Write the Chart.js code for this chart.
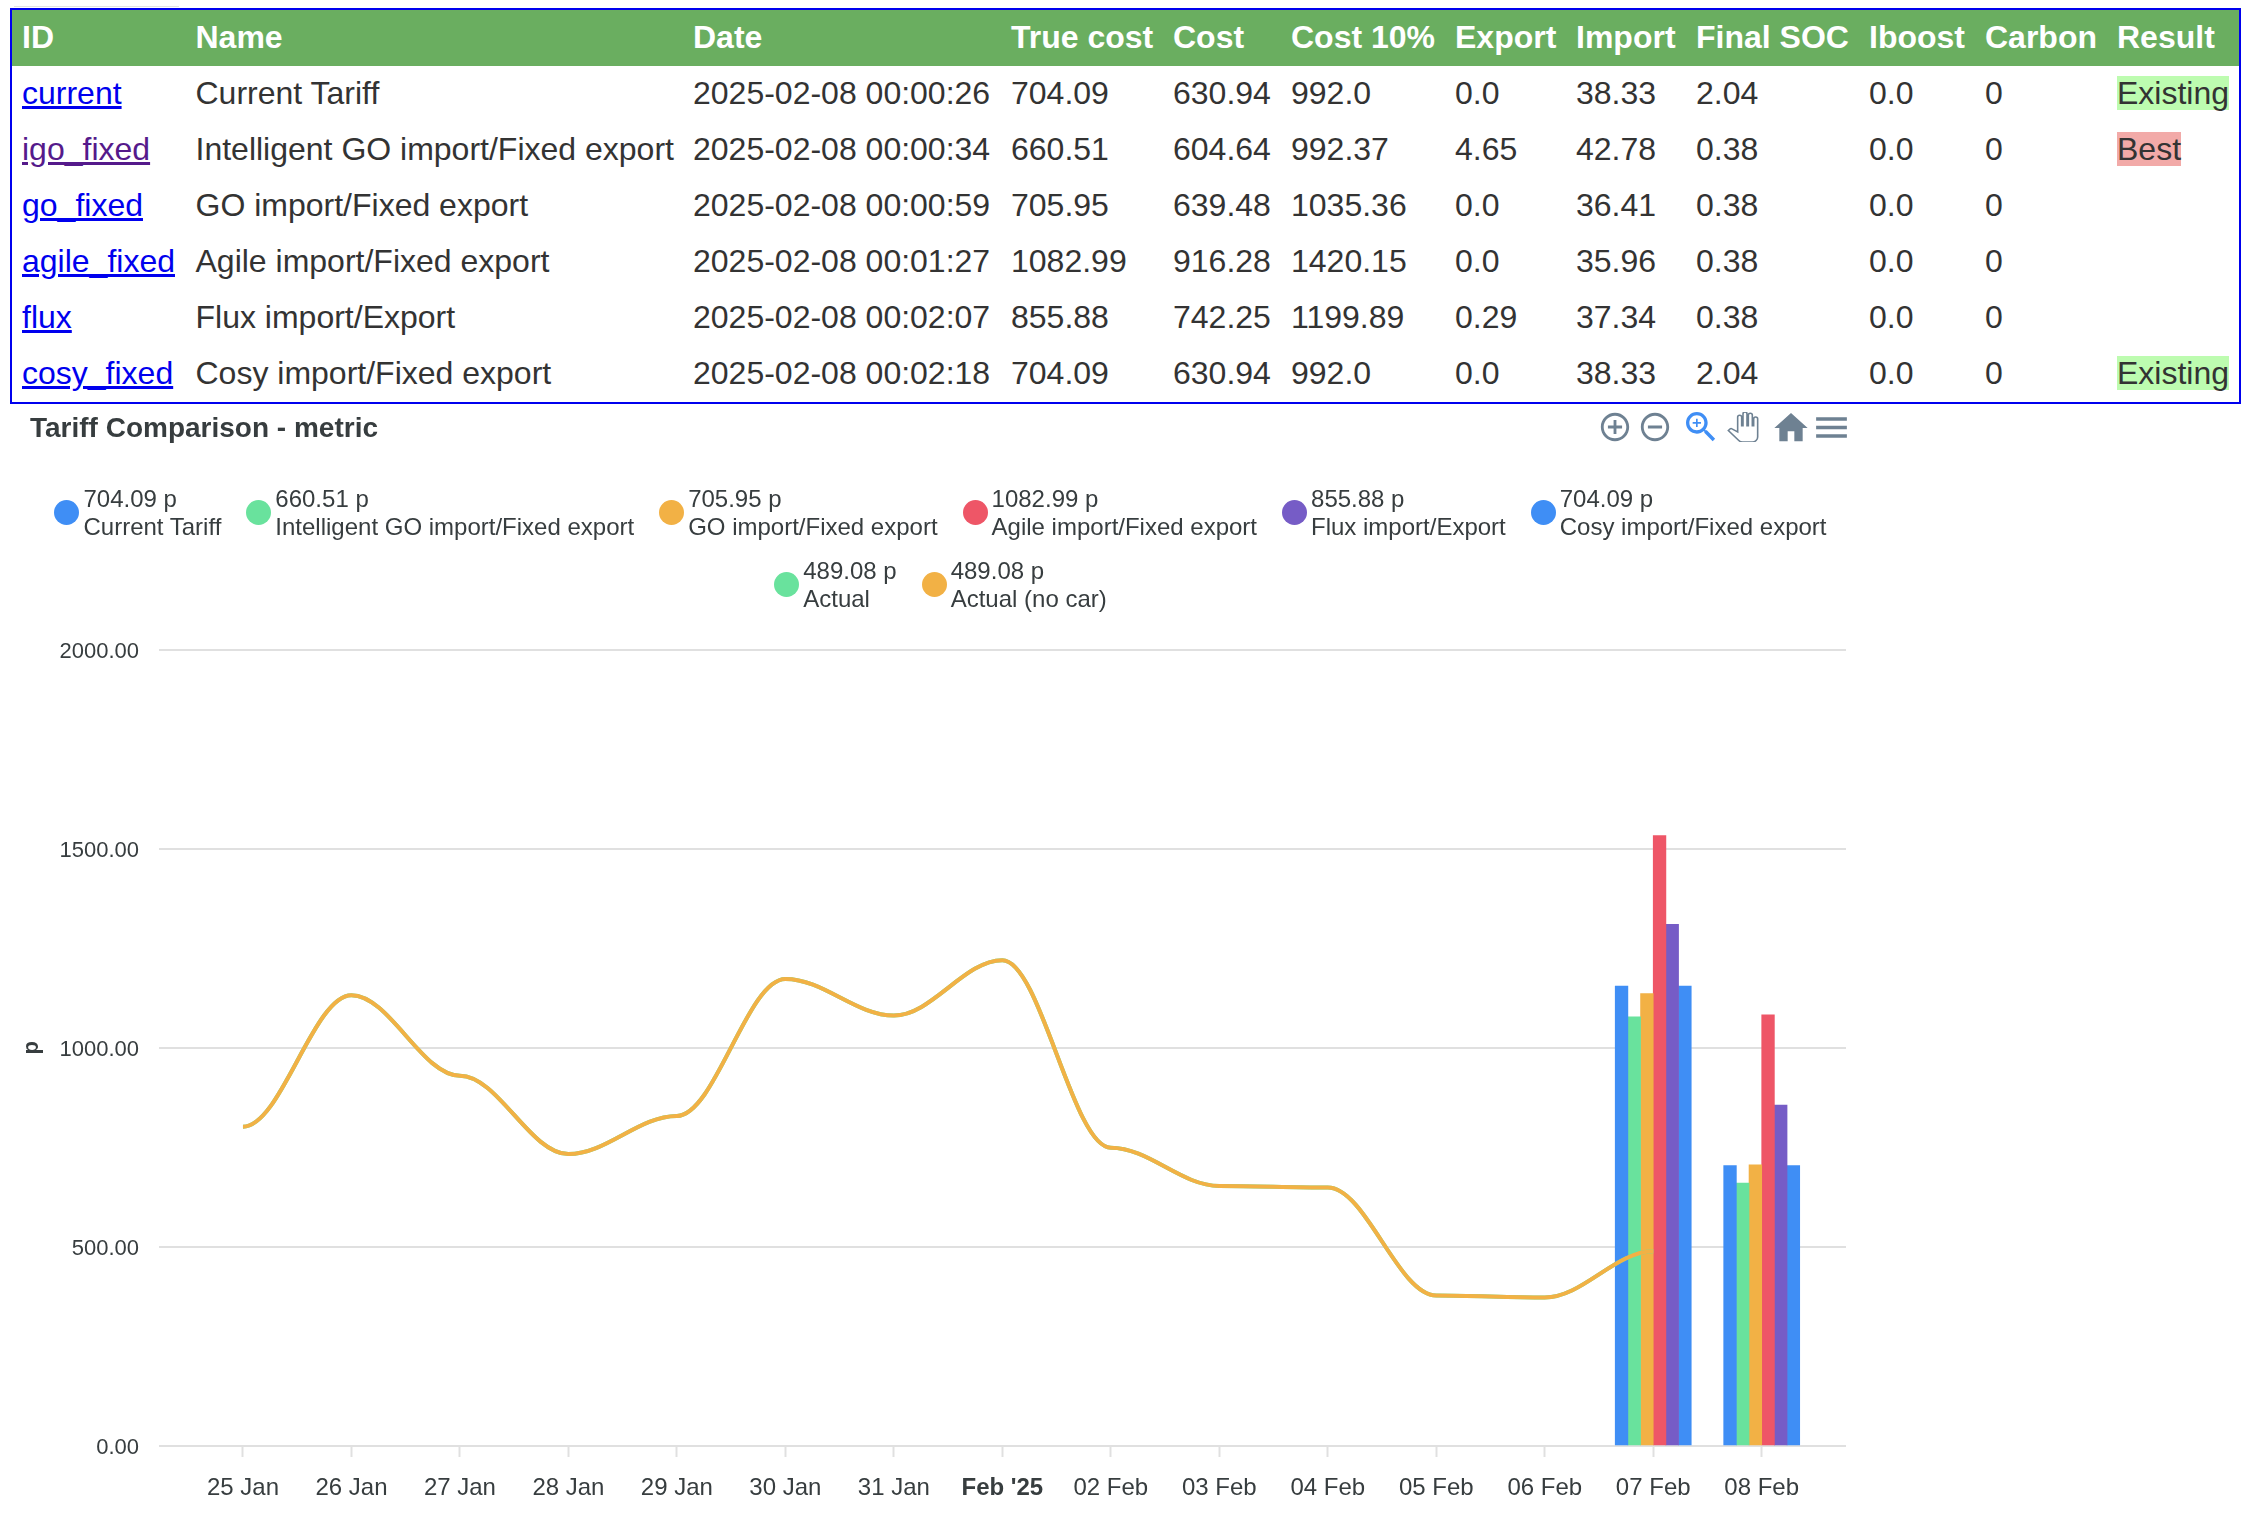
<!DOCTYPE html>
<html>
<head>
<meta charset="utf-8">
<script src="https://cdn.jsdelivr.net/npm/chart.js@4"></script>
<style>
html,body{margin:0;padding:0;background:#fff;width:2254px;height:1522px;overflow:hidden;font-family:"Liberation Sans",Arial,sans-serif;}
#faint{position:absolute;left:14px;top:6px;width:165px;height:1px;background:#e2e2e2;}
#tableBox{position:absolute;left:10px;top:8px;width:2227px;height:392px;border:2px solid #0000ee;border-right-width:2.5px;border-bottom-width:2.5px;overflow:hidden;}
table{border-collapse:collapse;table-layout:fixed;font-size:32px;color:#333;}
th,td{box-sizing:border-box;}
th{background:#6aae60;color:#fff;font-weight:bold;text-align:left;height:56px;padding:0 0 2px 0;white-space:nowrap;}
td{height:56px;padding:0 0 1px 0;white-space:nowrap;}
td a{color:#0000ee;text-decoration:underline;}
td a.visited{color:#551a8b;}
.tag{display:inline-block;height:34px;line-height:34px;}
.existing{background:#bdfcb0;}
.best{background:#f2aaa8;}
#chartCanvas{position:absolute;left:0;top:400px;}
#legend{position:absolute;left:0;top:485px;width:1881px;display:flex;flex-wrap:wrap;justify-content:center;column-gap:25px;row-gap:16px;font-size:24px;line-height:28px;color:#373d3f;}
.item{display:flex;align-items:center;white-space:nowrap;}
.dot{width:25px;height:25px;border-radius:50%;margin-right:4px;margin-bottom:2px;}
.icon{position:absolute;}
</style>
</head>
<body>
<div id="faint"></div>
<div id="tableBox"><table id="tbl"></table></div>
<canvas id="chartCanvas" width="1884" height="1122" style="width:1884px;height:1122px"></canvas>
<div id="legend"></div>
<svg class="icon" style="left:1598px;top:410px;width:34px;height:34px" viewBox="0 0 24 24" fill="#6e8192"><path d="M13 7h-2v4H7v2h4v4h2v-4h4v-2h-4V7zm-1-5C6.48 2 2 6.48 2 12s4.48 10 10 10 10-4.48 10-10S17.52 2 12 2zm0 18c-4.41 0-8-3.59-8-8s3.59-8 8-8 8 3.59 8 8-3.59 8-8 8z"/></svg>
<svg class="icon" style="left:1638px;top:410px;width:34px;height:34px" viewBox="0 0 24 24" fill="#6e8192"><path d="M7 11v2h10v-2H7zm5-9C6.48 2 2 6.48 2 12s4.48 10 10 10 10-4.48 10-10S17.52 2 12 2zm0 18c-4.41 0-8-3.59-8-8s3.59-8 8-8 8 3.59 8 8-3.59 8-8 8z"/></svg>
<svg class="icon" style="left:1681px;top:407px;width:40px;height:40px" viewBox="0 0 24 24" fill="#3f8ef5"><path d="M15.5 14h-.79l-.28-.27C15.41 12.59 16 11.11 16 9.5 16 5.91 13.09 3 9.5 3S3 5.91 3 9.5 5.91 16 9.5 16c1.61 0 3.09-.59 4.23-1.57l.27.28v.79l5 4.99L20.49 19l-4.99-5zm-6 0C7.01 14 5 11.99 5 9.5S7.01 5 9.5 5 14 7.01 14 9.5 11.99 14 9.5 14z"/><path d="M12 10h-2v2H9v-2H7V9h2V7h1v2h2v1z"/></svg>
<svg class="icon" style="left:1727px;top:412px;width:32px;height:30px" viewBox="0 0 24 24" preserveAspectRatio="none" fill="none" stroke="#6e8192" stroke-width="1.2"><path d="M23 5.5V20c0 2.2-1.8 4-4 4h-7.3c-1.08 0-2.1-.43-2.85-1.19L1 14.83s1.26-1.23 1.3-1.25c.22-.19.49-.29.79-.29.22 0 .42.06.6.16.04.01 4.31 2.46 4.31 2.46V4c0-.83.67-1.5 1.5-1.5S11 3.17 11 4v7h1V1.5c0-.83.67-1.5 1.5-1.5S15 .67 15 1.5V11h1V2.5c0-.83.67-1.5 1.5-1.5s1.5.67 1.5 1.5V11h1V5.5c0-.83.67-1.5 1.5-1.5s1.5.67 1.5 1.5z"/></svg>
<svg class="icon" style="left:1771px;top:408px;width:40px;height:40px" viewBox="0 0 24 24" fill="#6e8192"><path d="M10 20v-6h4v6h5v-8h3L12 3 2 12h3v8z"/></svg>
<svg class="icon" style="left:1811px;top:407px;width:41px;height:41px" viewBox="0 0 24 24" fill="#6e8192"><path d="M3 18h18v-2H3v2zm0-5h18v-2H3v2zm0-7v2h18V6H3z"/></svg>
<script>
// ---------- data ----------
const tableHeaders = ["ID","Name","Date","True cost","Cost","Cost 10%","Export","Import","Final SOC","Iboost","Carbon","Result"];
const rowCurrent = ["current","Current Tariff","2025-02-08 00:00:26","704.09","630.94","992.0","0.0","38.33","2.04","0.0","0","Existing"];
const rowIgo     = ["igo_fixed","Intelligent GO import/Fixed export","2025-02-08 00:00:34","660.51","604.64","992.37","4.65","42.78","0.38","0.0","0","Best"];
const rowGo      = ["go_fixed","GO import/Fixed export","2025-02-08 00:00:59","705.95","639.48","1035.36","0.0","36.41","0.38","0.0","0",""];
const rowAgile   = ["agile_fixed","Agile import/Fixed export","2025-02-08 00:01:27","1082.99","916.28","1420.15","0.0","35.96","0.38","0.0","0",""];
const rowFlux    = ["flux","Flux import/Export","2025-02-08 00:02:07","855.88","742.25","1199.89","0.29","37.34","0.38","0.0","0",""];
const rowCosy    = ["cosy_fixed","Cosy import/Fixed export","2025-02-08 00:02:18","704.09","630.94","992.0","0.0","38.33","2.04","0.0","0","Existing"];

const categories = ["25 Jan","26 Jan","27 Jan","28 Jan","29 Jan","30 Jan","31 Jan","Feb '25","02 Feb","03 Feb","04 Feb","05 Feb","06 Feb","07 Feb","08 Feb"];
const barDays = ["07 Feb","08 Feb"];
const currentTariff = [1155, 704.09];
const igoFixed      = [1078, 660.51];
const goFixed       = [1136, 705.95];
const agileFixed    = [1533, 1082.99];
const fluxExport    = [1310, 855.88];
const cosyFixed     = [1155, 704.09];
const actual      = [802,1132,930,733,829,1173,1081,1220,749,653,649,378,373,489.08];
const actualNoCar = [802,1132,930,733,829,1173,1081,1220,749,653,649,378,373,489.08];
const yTicks = [0,500,1000,1500,2000];

const barSeries = [
  ["Current Tariff", "704.09 p", currentTariff, "#3f8ef5"],
  ["Intelligent GO import/Fixed export", "660.51 p", igoFixed, "#69e29d"],
  ["GO import/Fixed export", "705.95 p", goFixed, "#f2b145"],
  ["Agile import/Fixed export", "1082.99 p", agileFixed, "#ee5667"],
  ["Flux import/Export", "855.88 p", fluxExport, "#765cc6"],
  ["Cosy import/Fixed export", "704.09 p", cosyFixed, "#3f8ef5"]
];
const lineSeries = [
  ["Actual", "489.08 p", actual, "#69e29d"],
  ["Actual (no car)", "489.08 p", actualNoCar, "#f2b145"]
];

// ---------- table ----------
const colLefts = [12,195.5,693,1011,1173,1291,1455,1576,1696,1869,1985,2117,2239];
const tbl = document.getElementById("tbl");
tbl.style.width = (colLefts[colLefts.length-1]-colLefts[0]) + "px";
let html = "<colgroup>";
colLefts.slice(0,-1).forEach((x,i)=>{ html += `<col style="width:${colLefts[i+1]-x}px">`; });
html += "</colgroup><tr>";
const firstPad = 10;
tableHeaders.forEach((h,i)=>{ html += `<th style="${i===0?`padding-left:${firstPad}px`:""}">${h}</th>`; });
html += "</tr>";
[rowCurrent,rowIgo,rowGo,rowAgile,rowFlux,rowCosy].forEach(r=>{
  html += "<tr>";
  r.forEach((c,i)=>{
    let inner = c, st = "";
    if(i===0){ inner = `<a href="#" class="${c==="igo_fixed"?"visited":""}">${c}</a>`; st=`padding-left:${firstPad}px`; }
    if(i===11 && c){ inner = `<span class="tag ${c==="Best"?"best":"existing"}">${c}</span>`; }
    html += `<td style="${st}">${inner}</td>`;
  });
  html += "</tr>";
});
tbl.innerHTML = html;

// ---------- legend ----------
const legend = document.getElementById("legend");
[...barSeries,...lineSeries].forEach(([name,total,,color])=>{
  const it = document.createElement("div");
  it.className = "item";
  it.innerHTML = `<div class="dot" style="background:${color}"></div><div>${total}<br>${name}</div>`;
  legend.appendChild(it);
});

// ---------- chart ----------
const FONT = '"Liberation Sans",Arial,sans-serif';
const TEXT = "#373d3f";
const GRID = "#e0e0e0";
const SPLINE_REACH = 0.35;

// Horizontal-tangent smoothing of the line, as in the reference's spline.
const flatSpline = {
  id: "flatSpline",
  beforeDatasetDraw(chart, args) {
    const meta = args.meta;
    if (meta.type !== "line") return;
    const line = meta.dataset, p = meta.data;
    for (let i = 0; i < p.length - 1; i++) {
      const d = (p[i+1].x - p[i].x) * SPLINE_REACH;
      p[i].cp2x = p[i].x + d; p[i].cp2y = p[i].y;
      p[i+1].cp1x = p[i+1].x - d; p[i+1].cp1y = p[i+1].y;
    }
    line._pointsUpdated = true;
    line._path = undefined;
  }
};

const datasets = [];
lineSeries.forEach(([name,,vals,color],i)=>{
  datasets.push({
    type:"line", label:name, order: 1-i,
    data: vals.map((v,k)=>({x:k,y:v})),
    borderColor:color, backgroundColor:color, borderWidth:4,
    pointRadius:0, tension:0.4, fill:false, borderCapStyle:"butt"
  });
});
barSeries.forEach(([name,,vals,color])=>{
  datasets.push({
    type:"bar", label:name, order:2,
    data: vals.map((v,k)=>({x:categories.indexOf(barDays[k]),y:v})),
    backgroundColor:color, borderWidth:0, barThickness:12.67, grouped:true
  });
});

new Chart(document.getElementById("chartCanvas"),{
  data:{datasets},
  plugins:[flatSpline],
  options:{
    responsive:false, animation:false, maintainAspectRatio:false,
    layout:{padding:{left:30,right:38,top:0,bottom:0}},
    plugins:{
      legend:{display:false},
      tooltip:{enabled:false},
      title:{display:true,text:"Tariff Comparison - metric",align:"start",color:TEXT,
        font:{family:FONT,size:28,weight:"bold",lineHeight:1.2},
        padding:{top:12.5,bottom:203.5}}
    },
    scales:{
      x:{
        type:"linear", min:-0.774, max:14.777, offset:false,
        afterBuildTicks(s){ s.ticks = categories.map((_,i)=>({value:i})); },
        afterFit(s){ s.height = 76; },
        border:{display:false},
        grid:{offset:false,drawOnChartArea:false,drawTicks:true,tickLength:11,tickWidth:2,tickColor:GRID,color:GRID},
        ticks:{
          autoSkip:false,maxRotation:0,minRotation:0,padding:17,color:TEXT,
          callback:(v)=>categories[v],
          font:(c)=>({family:FONT,size:24,weight:(c.tick && categories[c.tick.value]==="Feb '25")?"bold":"normal"})
        }
      },
      y:{
        type:"linear", min:0, max:2000,
        afterBuildTicks(s){ s.ticks = yTicks.map(v=>({value:v})); },
        afterFit(s){ s.width = 129; },
        border:{display:false},
        grid:{color:GRID,lineWidth:2,drawTicks:false},
        title:{display:true,text:"p",color:TEXT,font:{family:FONT,size:22,weight:"bold",lineHeight:1.2},padding:{top:-11,bottom:0}},
        ticks:{padding:20,labelOffset:2,color:TEXT,font:{family:FONT,size:22},callback:(v)=>v.toFixed(2)}
      }
    }
  }
});
</script>
</body>
</html>
